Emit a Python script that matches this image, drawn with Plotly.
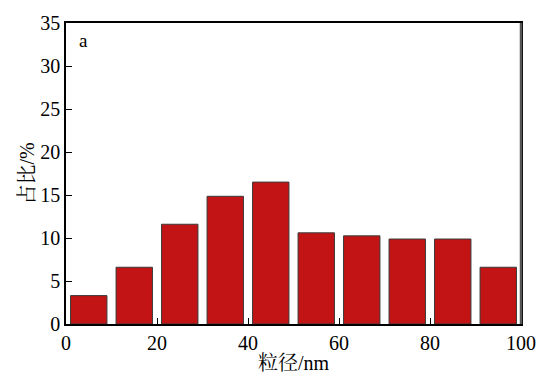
import plotly.graph_objects as go

centers = [5, 15, 25, 35, 45, 55, 65, 75, 85, 95]
values = [3.3, 6.6, 11.6, 14.85, 16.5, 10.6, 10.25, 9.88, 9.88, 6.6]
x_ticks = [0, 20, 40, 60, 80, 100]
y_ticks = [0, 5, 10, 15, 20, 25, 30, 35]

font_fam = "Liberation Serif, Times New Roman, Noto Serif CJK SC, Noto Sans CJK SC, serif"
fnt = dict(family=font_fam, size=20, color="black")

fig = go.Figure()
fig.add_trace(go.Bar(
    x=centers, y=values, width=8,
    marker=dict(color="#C21414", line=dict(color="#3a3a3a", width=1)),
))

fig.update_layout(
    template="none",
    width=536, height=374,
    margin=dict(l=66, r=15, t=23, b=50, autoexpand=False),
    paper_bgcolor="white", plot_bgcolor="white",
    showlegend=False,
    font=fnt,
    xaxis=dict(
        range=[0, 100], tickvals=x_ticks, ticks="inside", ticklen=6,
        tickcolor="black", showline=True, linecolor="black", linewidth=1.5,
        mirror=True, showgrid=False, zeroline=False, automargin=False,
        title=dict(text="粒径/nm", font=fnt, standoff=0),
        tickfont=fnt,
    ),
    yaxis=dict(
        range=[0, 35], tickvals=y_ticks, ticks="inside", ticklen=6,
        tickcolor="black", showline=True, linecolor="black", linewidth=1.5,
        mirror=True, showgrid=False, zeroline=False, automargin=False,
        title=dict(text="占比/%", font=fnt, standoff=0),
        tickfont=fnt,
    ),
    shapes=[dict(
        type="line", xref="paper", yref="paper", x0=1, x1=1, y0=0, y1=1,
        line=dict(color="#555555", width=2.5),
    )],
    annotations=[dict(
        text="a", x=0.025, y=0.985, xref="paper", yref="paper",
        xanchor="left", yanchor="top", showarrow=False,
        font=dict(size=19, family=font_fam, color="black"),
    )],
)

fig.write_html("out.html")
